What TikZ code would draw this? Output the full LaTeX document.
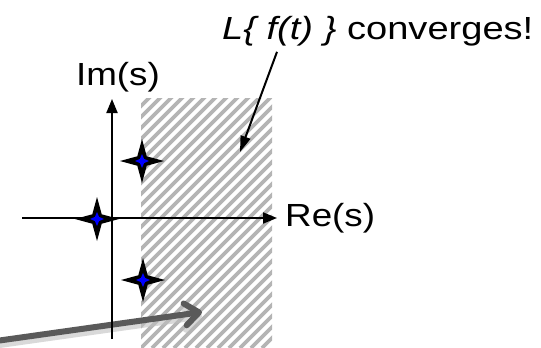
\documentclass[tikz,border=0pt]{standalone}
\usepackage{fontspec}
\setmainfont{Liberation Sans}[FakeStretch=1.15]
\newfontfamily\wideface{Liberation Sans}[FakeStretch=1.19]
\usepackage{tikz}
\usetikzlibrary{shapes.geometric, arrows.meta, positioning}
\definecolor{hatchgray}{HTML}{B4B4B4}
\definecolor{pointergray}{HTML}{5A5A5A}
\definecolor{poleblue}{HTML}{0000FF}

\begin{document}
\begin{tikzpicture}[x=1pt, y=-1pt, font=\fontsize{32}{38}\selectfont,
	poleout/.style={star, star points=4, star point ratio=3.3, minimum size=44pt, inner sep=0pt, fill=black},
	polein/.style={star, star points=4, star point ratio=2.4, minimum size=14pt, inner sep=0pt, fill=poleblue},
	axisline/.style={line width=2pt, -{Triangle[length=14pt, width=11pt]}}]
						\useasboundingbox (0,0) rectangle (541,348);
						\begin{scope}
						\clip (141,98) rectangle (272,348);
						\foreach \c in {-112,-101,...,272}
						\draw[hatchgray, line width=3.6pt] (\c,348) -- ++(260,-260);
						\end{scope}
						\coordinate (offleft) at (-4,341);
						\coordinate (shaded) at (202,312);
						\draw[black!25, opacity=0.6, line width=7pt, -{Straight Barb[length=14pt, width=22pt, round]}] ([yshift=-4pt]offleft) -- ([yshift=-4pt]shaded);
						\draw[pointergray, line width=6pt, -{Straight Barb[length=14pt, width=22pt, round]}] (offleft) -- (shaded);
						\coordinate (imbot) at (112,339);
						\coordinate (imtop) at (112,99);
						\coordinate (releft) at (22,218);
						\coordinate (reright) at (277,218);
						\draw[axisline] (imbot) -- (imtop);
						\draw[axisline] (releft) -- (reright);
						\node[above=7pt of imtop, xshift=6pt, inner sep=0pt] (imlabel) {Im(s)};
						\node[right=8pt of reright, inner sep=0pt] (relabel) {Re(s)};
						\foreach \n/\x/\y in {pa/142/161, pb/97/219, pc/143/280} {
						\node[poleout] (\n) at (\x,\y) {};
						\node[polein] (\n b) at (\n) {};
						}
						\node[anchor=base west, inner sep=0pt, font=\fontsize{32}{38}\wideface] (conv) at (222,39) {\textit{L\{ f(t) \}} converges!};
						\coordinate (region) at (240,152);
						\draw[line width=2pt, -{Triangle[length=16pt, width=10pt]}] ([xshift=55pt, yshift=-6pt]conv.south west) -- (region);
					\end{tikzpicture}
\end{document}
